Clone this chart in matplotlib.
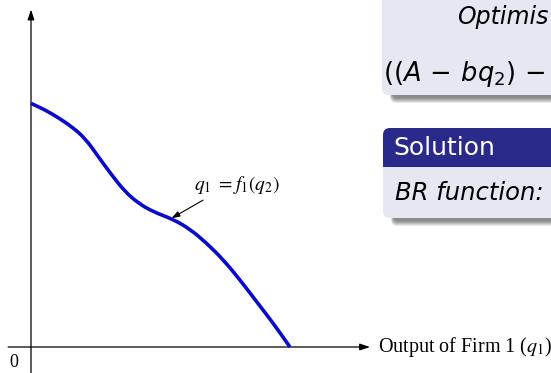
import numpy as np
import matplotlib
matplotlib.use("Agg")
import matplotlib.pyplot as plt
from matplotlib.path import Path
from matplotlib.patches import PathPatch, FancyBboxPatch, Rectangle

# best-response curve q1 = f1(q2) (arbitrary units)
q1_vals = [0, 5.4, 10.5, 15.7, 20.8, 25.9, 31.0, 36.2, 41.3, 47.0,
           54.7, 61.2, 67.6, 74.0, 80.4, 86.8, 93.2, 99.6]
q2_vals = [93.7, 91.2, 88.2, 84.7, 80.3, 73.2, 66.2, 59.7, 55.3, 52.0,
           49.1, 45.3, 39.9, 33.5, 25.8, 17.4, 9.1, 0.0]

curve_label = r"$q_1\ {=}f_1(q_2)$"
x_label = r"Output of Firm 1 ($q_1$)"
y_label = r"$q_2$"
box1_lines = ["Optimis", r"$((A\,-\,bq_2)\,-$"]
box2_title = "Solution"
box2_body = "BR function:"

W, H = 551, 373
fig = plt.figure(figsize=(W / 100, H / 100), dpi=100)
fig.patch.set_facecolor("white")

# graph axes: origin at pixel (31, 347), 2.6 px per unit
px = 2.6
ax = fig.add_axes([0, 0, 1, 1])
ax.set_xlim(-31 / px, (W - 31) / px)
ax.set_ylim(-(H - 347) / px, 347 / px)
ax.axis("off")

# axes with arrows
ax.annotate("", xy=(130.4, 0), xytext=(-8.8, 0),
            arrowprops=dict(arrowstyle="-|>,head_length=0.6,head_width=0.2",
                            lw=0.9, color="black", shrinkA=0, shrinkB=0))
ax.annotate("", xy=(0, 129.8), xytext=(0, -10.5),
            arrowprops=dict(arrowstyle="-|>,head_length=0.6,head_width=0.2",
                            lw=0.9, color="black", shrinkA=0, shrinkB=0))

# smooth curve through the read points (quadratic bezier through midpoints)
pts = np.column_stack([q1_vals, q2_vals])
verts = [pts[0]]
codes = [Path.MOVETO]
verts.append((pts[0] + pts[1]) / 2)
codes.append(Path.LINETO)
for i in range(1, len(pts) - 1):
    verts += [pts[i], (pts[i] + pts[i + 1]) / 2]
    codes += [Path.CURVE3, Path.CURVE3]
verts.append(pts[-1])
codes.append(Path.LINETO)
ax.add_patch(PathPatch(Path(verts, codes), fill=False, lw=2.6,
                       edgecolor="#0a0acc", capstyle="butt", zorder=3))

ax.text(-6.5, -5.8, "0", fontsize=13, family="Liberation Serif",
        ha="center", va="center")
ax.annotate("", xy=(54.0, 49.5), xytext=(66.2, 56.5),
            arrowprops=dict(arrowstyle="-|>,head_length=0.5,head_width=0.17",
                            lw=0.8, color="black", shrinkA=0, shrinkB=0))
ax.text(62.8, 62.3, curve_label, fontsize=14, math_fontfamily="stix",
        ha="left", va="center")
ax.text(133.3, 0, x_label, fontsize=14.5, family="Liberation Serif",
        math_fontfamily="stix", ha="left", va="center")
ax.text(25.5, 134.8, y_label, fontsize=14, math_fontfamily="stix",
        ha="left", va="bottom")

# beamer-style blocks on the right, in pixel coordinates
ov = fig.add_axes([0, 0, 1, 1])
ov.set_xlim(0, W)
ov.set_ylim(H, 0)
ov.axis("off")
ov.patch.set_alpha(0)

body_col = "#e7e7f2"
head_col = "#2a2a8a"


def shadow(x0, y0, x1, y1):
    for k in range(8):
        ov.add_patch(FancyBboxPatch((x0 + 8 + k * 0.3, y0 + 8),
                                    x1 - x0, y1 - y0 - k * 0.7,
                                    boxstyle="round,pad=0,rounding_size=6",
                                    fc="black", ec="none", alpha=0.07, zorder=1))


shadow(382, -40, 600, 95)
ov.add_patch(FancyBboxPatch((382, -40), 220, 135,
                            boxstyle="round,pad=0,rounding_size=7",
                            fc=body_col, ec="none", zorder=2))
ov.text(457, 17, box1_lines[0], fontsize=17, style="italic",
        family="DejaVu Sans", ha="left", va="center", zorder=3)
ov.text(383, 74, box1_lines[1], fontsize=18.5, math_fontfamily="dejavusans",
        ha="left", va="center", zorder=3)

shadow(383, 128, 600, 218)
ov.add_patch(FancyBboxPatch((383, 128), 220, 90,
                            boxstyle="round,pad=0,rounding_size=7",
                            fc=body_col, ec="none", zorder=2))
ov.add_patch(FancyBboxPatch((383, 128), 220, 39,
                            boxstyle="round,pad=0,rounding_size=7",
                            fc=head_col, ec="none", zorder=2))
ov.add_patch(Rectangle((383, 150), 220, 17, fc=head_col, ec="none", zorder=2))
ov.text(393, 148, box2_title, fontsize=18, color="white",
        family="DejaVu Sans", ha="left", va="center", zorder=3)
ov.text(395, 193, box2_body, fontsize=17.5, style="italic",
        family="DejaVu Sans", ha="left", va="center", zorder=3)

fig.savefig("out.png", dpi=100)
